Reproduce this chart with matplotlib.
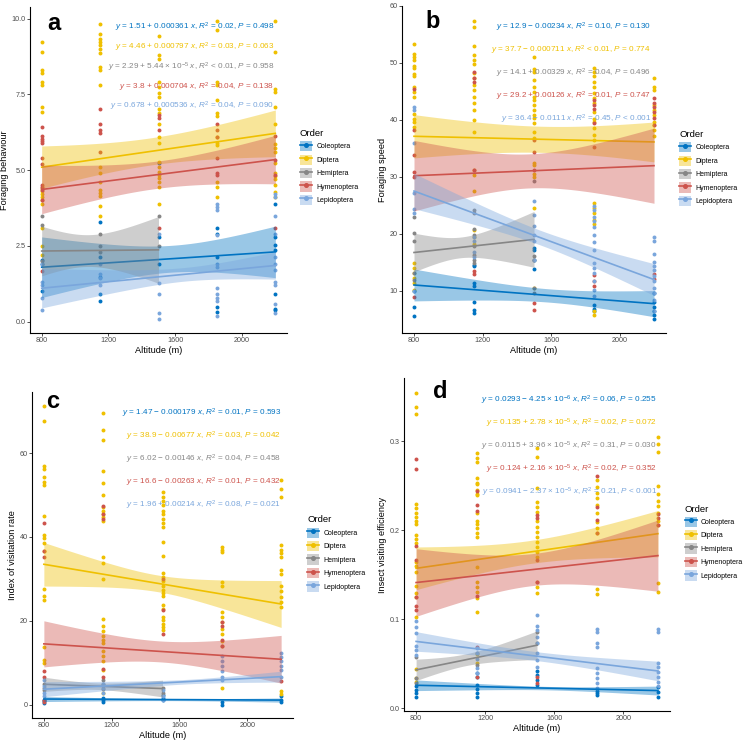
import numpy as np
import matplotlib.pyplot as plt
from matplotlib.patches import Patch
from matplotlib.lines import Line2D
from matplotlib.ticker import FormatStrFormatter

plt.rcParams['font.family'] = ['Liberation Sans', 'DejaVu Sans']
plt.rcParams['mathtext.fontset'] = 'custom'
plt.rcParams['mathtext.rm'] = 'Liberation Sans'
plt.rcParams['mathtext.it'] = 'Liberation Sans:italic'
plt.rcParams['mathtext.bf'] = 'Liberation Sans:bold'

altitudes = [800, 1150, 1500, 1850, 2200]
orders = ["Coleoptera", "Diptera", "Hemiptera", "Hymenoptera", "Lepidoptera"]
colors = ["#0073C2", "#EFC000", "#868686", "#CD534C", "#7AA6DC"]

# ---- a: foraging behaviour (one list per altitude) ----
behav_col = [[2.05, 1.9, 1.0], [3.3, 2.15, 1.48, 0.93, 0.69], [5.22, 2.8, 1.9],
             [3.08, 2.89, 2.12, 0.5, 0.33], [3.9, 2.8, 2.53, 2.37, 0.93, 0.43, 0.39]]
behav_dip = [[9.21, 8.9, 8.3, 8.21, 7.91, 7.8, 7.09, 6.91, 4.4, 4.3, 4.2, 4.1, 4.0, 3.9, 3.1, 2.5, 2.2],
             [9.81, 9.5, 9.31, 9.23, 9.12, 8.98, 8.85, 8.41, 8.3, 7.8, 5.11, 4.91, 4.62, 4.34, 4.25, 4.14, 3.81, 3.5],
             [9.42, 8.79, 8.68, 7.91, 7.75, 7.53, 7.42, 7.03, 6.87, 6.52, 6.1, 5.9, 5.28, 5.11, 4.95, 4.84, 4.73, 4.62, 4.45, 3.9],
             [9.93, 9.62, 7.91, 7.8, 7.31, 6.87, 6.78, 6.1, 5.9, 5.82, 4.62, 4.45, 4.1],
             [9.93, 8.9, 7.69, 7.58, 7.09, 6.52, 5.87, 5.74, 5.61, 5.22, 4.91, 4.8, 4.7, 4.51, 4.29, 4.12]]
behav_hem = [[3.5, 3.2, 2.0], [2.89, 2.5, 2.31], [3.5, 2.5]]
behav_hym = [[6.42, 6.12, 6.04, 5.97, 5.9, 5.4, 5.21, 4.51, 4.45, 4.34, 4.01, 1.68],
             [7.03, 6.52, 6.32, 6.23, 5.61], [6.81, 6.71, 6.32, 3.08],
             [6.52, 6.32, 6.1, 5.4, 4.91, 4.84], [6.12, 5.33, 4.84, 3.08]]
behav_lep = [[1.9, 1.3, 1.2, 0.8, 0.4], [1.92, 1.59, 1.43, 1.21], [2.91, 1.29, 0.91, 0.3, 0.09],
             [3.9, 3.8, 3.7, 2.85, 1.92, 1.81, 1.1, 0.93, 0.8, 0.69, 0.2],
             [4.2, 4.1, 3.5, 2.9, 2.15, 1.92, 1.7, 1.3, 1.2, 0.6, 0.3]]
behav_intercept = [1.51, 4.46, 2.29, 3.8, 0.678]
behav_slope = [0.000361, 0.000797, 5.44e-5, 0.000704, 0.000536]
behav_r2 = ["= 0.02", "= 0.03", "< 0.01", "= 0.04", "= 0.04"]
behav_p = ["= 0.498", "= 0.063", "= 0.958", "= 0.138", "= 0.090"]
behav_ci = [[1.0, 0.45, 0.85], [0.7, 0.45, 0.77], [0.82, 0.55, 1.1], [0.8, 0.45, 0.8], [0.65, 0.25, 0.45]]

# ---- b: foraging speed ----
speed_col = [[9.9, 7.1, 5.6], [14.6, 14.3, 11.3, 10.8, 8.1, 6.7, 6.1], [17.6, 17.1, 15.5, 13.9],
             [7.5, 6.9, 6.4], [9.6, 8.1, 7.2, 6.4, 5.8, 5.0]]
speed_dip = [[53.3, 51.6, 51.1, 50.5, 49.5, 49.1, 48.1, 47.7, 45.7, 44.9, 44.0, 41.0, 40.2, 39.7, 38.8, 14.85, 13.97, 13.1, 12.2, 11.35, 10.2],
             [57.4, 56.3, 52.9, 51.4, 50.5, 49.8, 48.2, 47.3, 46.1, 45.3, 44.1, 42.9, 41.8, 40.0, 37.8, 31.2, 30.4, 27.6, 20.7, 19.5, 18.3],
             [51.0, 48.9, 48.5, 47.0, 45.7, 44.9, 44.1, 43.5, 42.6, 41.8, 40.9, 40.3, 39.4, 37.9, 36.8, 32.5, 32.1, 30.5, 29.9, 24.5, 10.5],
             [49.1, 48.5, 47.7, 46.7, 45.7, 44.7, 43.8, 42.9, 41.4, 40.1, 39.7, 38.5, 37.4, 36.5, 25.4, 24.5, 23.6, 22.5, 21.8, 6.4, 5.8],
             [47.3, 45.7, 45.3, 42.6, 41.8, 40.9, 39.7, 39.1, 38.2, 37.2]]
speed_hem = [[23.0, 20.1, 18.7, 13.1, 11.9], [24.2, 23.7, 20.9, 19.8, 17.8, 16.3, 15.5, 14.8],
             [29.2, 16.2, 15.4, 10.5, 9.6]]
speed_hym = [[45.4, 38.2, 33.9, 30.9, 29.9, 9.0], [48.5, 47.3, 46.7, 31.2, 13.4, 13.0],
             [36.4, 34.4, 31.2, 7.8, 6.7], [43.5, 42.6, 41.9, 39.4, 35.3, 12.8, 11.7, 10.8],
             [43.8, 43.0, 42.2, 41.4, 40.3, 39.1, 13.0, 12.1]]
speed_lep = [[42.2, 41.8, 36.0, 27.1, 24.3, 23.6, 9.9], [19.5, 18.8, 16.9, 16.0],
             [25.8, 23.3, 21.3, 19.8, 18.7, 15.5],
             [24.9, 24.2, 23.0, 22.2, 21.2, 19.8, 18.5, 17.2, 14.8, 14.0, 13.1, 11.7, 10.2, 9.1],
             [19.4, 18.8, 16.5, 15.0, 14.3, 13.6, 12.6, 11.7, 10.5, 9.6, 8.4, 6.4]]
speed_intercept = [12.9, 37.7, 14.1, 29.2, 36.4]
speed_slope = [-0.00234, -0.000711, 0.00329, 0.00126, -0.0111]
speed_r2 = ["= 0.10", "< 0.01", "= 0.04", "= 0.01", "= 0.45"]
speed_p = ["= 0.130", "= 0.774", "= 0.496", "= 0.747", "< 0.001"]
speed_ci = [[2.8, 1.2, 2.3], [3.8, 2.3, 3.5], [3.4, 2.0, 4.9], [6.2, 3.0, 6.6], [3.1, 1.3, 2.8]]

# ---- c: index of visitation rate ----
visit_col = [[1.2, 0.8, 0.4], [1.6, 1.1, 0.7], [2.4, 1.6, 1.1], [0.5, 0.0], [2.0, 1.2, 0.6]]
visit_dip = [[71.2, 67.7, 56.9, 56.3, 54.2, 53.2, 52.4, 45.0, 40.5, 39.7, 38.5, 36.7, 27.5, 25.8, 25.0, 13.7, 10.7, 9.9],
             [69.6, 65.6, 63.1, 55.8, 53.0, 50.0, 47.2, 46.3, 45.5, 44.7, 43.9, 35.3, 33.7, 29.9, 20.4, 18.7, 17.5,
              16.3, 15.3, 14.6, 12.7, 11.5, 10.3, 8.2, 2.8],
             [50.8, 49.6, 48.7, 47.6, 46.3, 45.6, 44.2, 43.3, 42.5, 38.7, 35.5, 31.4, 30.4, 29.4, 28.3, 27.4, 26.6,
              25.8, 23.8, 22.8, 21.0, 20.3, 19.3, 18.5, 17.9],
             [37.5, 36.9, 36.3, 29.2, 28.3, 22.2, 20.9, 19.6, 18.1, 16.9, 15.1, 13.9, 4.0],
             [53.6, 51.4, 49.6, 38.1, 36.9, 36.1, 35.2, 32.1, 31.2, 28.2, 27.2, 25.6, 24.6, 23.4, 3.2, 2.6]]
visit_hem = [[5.0, 4.0, 3.4], [5.95, 4.8, 3.7], [4.0, 2.8]]
visit_hym = [[43.4, 36.7, 35.3, 7.9, 6.7, 1.2, 0.55], [47.4, 45.6, 44.2, 8.5, 6.7], [29.9, 22.6, 16.9],
             [19.6, 18.8, 15.3, 13.9], [5.6]]
visit_lep = [[5.9, 4.4, 2.8, 2.1], [5.0, 3.96, 2.8], [3.6, 2.0, 1.2], [11.5, 10.3, 9.1, 7.9, 6.7, 5.9],
             [12.3, 11.3, 10.3, 9.3, 8.3, 6.7]]
visit_intercept = [1.47, 38.9, 6.02, 16.6, 1.96]
visit_slope = [-0.000179, -0.00677, -0.00146, -0.00263, 0.00214]
visit_r2 = ["= 0.01", "= 0.03", "= 0.04", "= 0.01", "= 0.08"]
visit_p = ["= 0.593", "= 0.042", "= 0.458", "= 0.432", "= 0.021"]
visit_ci = [[0.6, 0.25, 0.5], [5.2, 2.0, 5.6], [1.7, 0.8, 2.0], [5.5, 2.5, 5.7], [1.8, 0.6, 1.3]]

# ---- d: insect visiting efficiency ----
eff_col = [[0.0251, 0.0206, 0.0169, 0.0131], [0.0393, 0.0348, 0.0262, 0.0214, 0.0169, 0.0131],
           [0.0423, 0.0374, 0.0318, 0.0262], [0.0199, 0.0169, 0.0150], [0.0236, 0.0187, 0.0131]]
eff_dip = [[0.3546, 0.3382, 0.3307, 0.2296, 0.2247, 0.2191, 0.2146, 0.2108, 0.2067, 0.1947, 0.1899, 0.1854,
            0.1649, 0.1600, 0.1536, 0.1375, 0.1292, 0.1255, 0.1030, 0.0447, 0.0337, 0.0300],
           [0.2865, 0.2809, 0.2771, 0.2584, 0.2528, 0.2520, 0.2453, 0.2408, 0.2397, 0.2191, 0.2108, 0.2071, 0.2022,
            0.1974, 0.1929, 0.1584, 0.1423, 0.1367, 0.1311, 0.1236, 0.1087, 0.0610, 0.0513],
           [0.2920, 0.2820, 0.2472, 0.2322, 0.2266, 0.2210, 0.2108, 0.2041, 0.1985, 0.1929, 0.1873, 0.1817, 0.1761,
            0.1698, 0.1423, 0.1367, 0.1292],
           [0.2565, 0.2490, 0.2416, 0.2359, 0.2285, 0.2191, 0.2097, 0.2022, 0.1966, 0.1337, 0.1285],
           [0.3052, 0.2969, 0.2883, 0.2498, 0.2408, 0.2333, 0.2273, 0.2191, 0.2108, 0.2060, 0.1405, 0.1311]]
eff_hem = [[0.0580, 0.0337, 0.0288], [0.0618, 0.0487], [0.0862, 0.0731]]
eff_hym = [[0.2797, 0.2685, 0.1824, 0.1666, 0.1255, 0.1150, 0.1105], [0.2445, 0.2285, 0.2221, 0.1262, 0.0693, 0.0348],
           [0.2172, 0.2135, 0.1666, 0.1423, 0.0356, 0.0281], [0.2609, 0.2266, 0.2116, 0.1974],
           [0.2183, 0.2135, 0.2060]]
eff_lep = [[0.0985, 0.0918, 0.0843, 0.0700, 0.0655, 0.0600], [0.0674, 0.0618, 0.0551, 0.0450, 0.0393],
           [0.1049, 0.0925, 0.0880, 0.0798, 0.0731, 0.0618, 0.0543, 0.0468],
           [0.0888, 0.0862, 0.0731, 0.0693, 0.0450, 0.0393, 0.0337, 0.0281, 0.0225],
           [0.0888, 0.0862, 0.0513, 0.0468, 0.0412, 0.0356, 0.0300, 0.0251]]
eff_intercept = [0.0293, 0.135, 0.0115, 0.124, 0.0941]
eff_slope = [-4.25e-6, 2.78e-5, 3.96e-5, 2.16e-5, -2.37e-5]
eff_r2 = ["= 0.06", "= 0.02", "= 0.31", "= 0.02", "= 0.21"]
eff_p = ["= 0.255", "= 0.072", "= 0.030", "= 0.352", "< 0.001"]
eff_ci = [[0.006, 0.002, 0.005], [0.024, 0.013, 0.026], [0.012, 0.007, 0.016], [0.038, 0.018, 0.040],
          [0.011, 0.005, 0.011]]

W, H = 746, 741


def fmt_num(v):
    s = f"{abs(v):.3g}"
    if "e" in s:
        m, e = s.split("e")
        s = m + " × 10$^{" + str(int(e)) + "}$"
    return s


def equation(b0, b1, r2, p):
    sign = " + " if b1 > 0 else " − "
    return (r"$\mathit{y}$ = " + fmt_num(b0) + sign + fmt_num(b1) + r" $\mathit{x}$, $\mathit{R}^2$ " + r2
            + r", $\mathit{P}$ " + p)


def draw_panel(fig, lay, series, intercepts, slopes, ci, r2s, ps):
    left, top, right, bottom = lay["box"]
    ax = fig.add_axes([left / W, 1 - bottom / H, (right - left) / W, (bottom - top) / H])

    # equations first so points sit over them
    for i in range(5):
        fig.text(lay["eq"][0] / W, 1 - (lay["eq"][1] + i * lay["eq"][2]) / H,
                 equation(intercepts[i], slopes[i], r2s[i], ps[i]),
                 ha="right", va="center", fontsize=5.9, color=colors[i])

    for i, groups in enumerate(series):
        for alt, vals in zip(altitudes, groups):
            ax.scatter([alt] * len(vals), vals, s=8, color=colors[i], linewidths=0, zorder=2)

    for i, groups in enumerate(series):
        lo, hi = altitudes[0], altitudes[len(groups) - 1]
        xs = np.linspace(lo, hi, 120)
        fit = intercepts[i] + slopes[i] * xs
        coef = np.polyfit([lo, (lo + hi) / 2, hi], np.square(ci[i]), 2)
        half = np.sqrt(np.clip(np.polyval(coef, xs), 0, None))
        ax.fill_between(xs, fit - half, fit + half, color=colors[i], alpha=0.4, lw=0, zorder=3 + i)
        ax.plot(xs, fit, color=colors[i], lw=1.2, zorder=3 + i)

    ax.set_xlim(730, 2270)
    ax.set_ylim(*lay["ylim"])
    ax.set_xticks([800, 1200, 1600, 2000])
    ax.set_yticks(lay["yticks"])
    ax.yaxis.set_major_formatter(FormatStrFormatter(lay["yfmt"]))
    for s in ["top", "right"]:
        ax.spines[s].set_visible(False)
    for s in ["left", "bottom"]:
        ax.spines[s].set_linewidth(0.8)
    ax.tick_params(length=2, width=0.6, pad=1, labelsize=5.2, labelcolor="#4D4D4D", color="#333333")
    ax.set_xlabel("Altitude (m)", fontsize=6.6, labelpad=1.5)
    ax.set_ylabel(lay["ylabel"], fontsize=6.6, labelpad=2)

    fig.text(lay["letter"][0] / W, 1 - lay["letter"][1] / H, lay["tag"], fontsize=17,
             fontweight="bold", ha="center", va="center")

    handles = [(Patch(facecolor=c, alpha=0.4, lw=0),
                Line2D([], [], color=c, lw=1.2, marker="o", ms=2.6)) for c in colors]
    fig.legend(handles, orders, title="Order", loc="upper left",
               bbox_to_anchor=(lay["legend"][0] / W, 1 - lay["legend"][1] / H),
               frameon=False, fontsize=5.0, title_fontsize=6.8, handlelength=1.74,
               handleheight=1.9, labelspacing=0.45, handletextpad=0.6, borderpad=0,
               borderaxespad=0, alignment="left")
    return ax


fig = plt.figure(figsize=(W / 100, H / 100), dpi=100)

draw_panel(fig, dict(box=(30, 7, 287, 333), ylim=(-0.37, 10.38), yticks=[0, 2.5, 5, 7.5, 10], yfmt="%.1f",
                     ylabel="Foraging behaviour", eq=(274.5, 27.7, 19.75), letter=(54, 23), tag="a",
                     legend=(300, 129)),
           [behav_col, behav_dip, behav_hem, behav_hym, behav_lep],
           behav_intercept, behav_slope, behav_ci, behav_r2, behav_p)

draw_panel(fig, dict(box=(402, 6, 666, 333), ylim=(2.6, 60.0), yticks=[10, 20, 30, 40, 50, 60], yfmt="%d",
                     ylabel="Foraging speed", eq=(651, 27.7, 22.9), letter=(433, 21), tag="b",
                     legend=(679, 130)),
           [speed_col, speed_dip, speed_hem, speed_hym, speed_lep],
           speed_intercept, speed_slope, speed_ci, speed_r2, speed_p)

draw_panel(fig, dict(box=(32, 392, 293, 718), ylim=(-3.2, 74.6), yticks=[0, 20, 40, 60], yfmt="%d",
                     ylabel="Index of visitation rate", eq=(281, 413.3, 22.9), letter=(53, 401), tag="c",
                     legend=(307, 515.5)),
           [visit_col, visit_dip, visit_hem, visit_hym, visit_lep],
           visit_intercept, visit_slope, visit_ci, visit_r2, visit_p)

draw_panel(fig, dict(box=(404, 378, 670, 711), ylim=(-0.003, 0.371), yticks=[0.0, 0.1, 0.2, 0.3], yfmt="%.1f",
                     ylabel="Insect visiting efficiency", eq=(657, 400, 23.2), letter=(440, 392), tag="d",
                     legend=(684.5, 504.5)),
           [eff_col, eff_dip, eff_hem, eff_hym, eff_lep],
           eff_intercept, eff_slope, eff_ci, eff_r2, eff_p)

fig.savefig("out.png", dpi=100)
